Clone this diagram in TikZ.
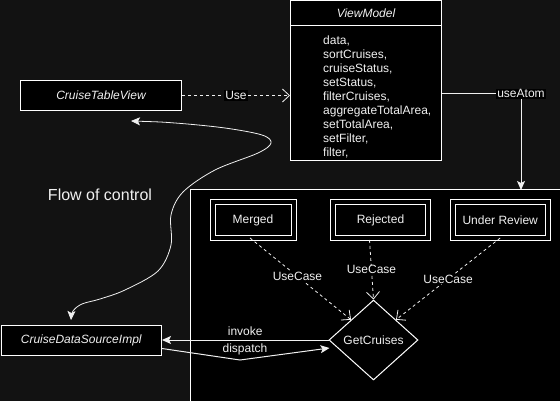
\documentclass[tikz,border=0pt]{standalone}
\usepackage{fontspec}
\setmainfont{Liberation Sans}
\usetikzlibrary{shapes.geometric,arrows.meta,calc}
\definecolor{bgc}{RGB}{18,18,18}
\definecolor{fg}{RGB}{240,240,240}
\begin{document}
\begin{tikzpicture}[x=1pt,y=-1pt,
  every node/.style={text=fg, font=\fontsize{12}{14}\selectfont},
  box/.style={draw=white, fill=black, line width=1pt, inner sep=0pt, minimum width=161pt, minimum height=30pt},
  dbox/.style={draw=white, double=black, double distance=4pt, line width=1pt, fill=black, inner sep=0pt, minimum height=35pt},
  lbl/.style={fill=black, inner sep=1pt},
  openarrow/.style={draw=fg, line width=0.8pt, dash pattern=on 3pt off 3pt, -{Straight Barb[length=7pt,width=13pt]}},
  solidarrow/.style={draw=fg, line width=1pt, -{Stealth[length=9pt,width=8pt,inset=2pt]}}
]
\useasboundingbox (0,0) rectangle (560,401);
\fill[bgc] (0,0) rectangle (560,401);

% container
\fill[black] (190,190) rectangle (575,410);
\draw[white, line width=1pt] (190,410) -- (190,190) -- (575,190);
\coordinate (ua) at (521,190);

% CruiseTableView
\node[box, anchor=north west] (ctv) at (20,80) {\itshape CruiseTableView};
% CruiseDataSourceImpl
\node[box, anchor=north west, minimum width=160.5pt] (cds) at (0.5,325) {\itshape CruiseDataSourceImpl};

% ViewModel
\node[box, anchor=north west, minimum width=151pt, minimum height=159.5pt] (vm) at (290,0.5) {};
\draw[white, line width=1pt] ($(vm.north west)+(0,25.5)$) -- ($(vm.north east)+(0,25.5)$);
\node (vmh) at ($(vm.north)+(0,12.5)$) {\itshape ViewModel};
\node[anchor=north west, align=left, inner sep=0pt] (vmi) at (323,36) {data,\\sortCruises,\\cruiseStatus,\\setStatus,\\filterCruises,\\aggregateTotalArea,\\setTotalArea,\\setFilter,\\filter,};

% status boxes
\node[dbox, minimum width=81pt] (mer) at (253,220) {Merged};
\node[dbox, minimum width=95.5pt] (rej) at (380.5,220) {Rejected};
\node[dbox, minimum width=95pt] (ur) at (500.2,220) {Under Review};

% GetCruises
\node[diamond, draw=white, fill=black, line width=1pt, inner sep=0pt, minimum width=89pt, minimum height=80pt] (gc) at (373.5,340) {GetCruises};

% Flow of control
\node[font=\fontsize{16}{19}\selectfont] (foc) at (100,195) {Flow of control};

% Use
\draw[openarrow] (ctv.east) -- (ctv.east -| vm.west) node[midway, lbl] {Use};

% useAtom
\draw[solidarrow] ($(vm.east)+(0,13)$) -| (ua) node[pos=0.5, lbl] {useAtom};

% UseCase
\draw[openarrow] ([xshift=-3pt]mer.south) -- (gc.north west) node[pos=0.47, lbl] {UseCase};
\draw[openarrow] ([xshift=-11pt,yshift=-2pt]rej.south) -- (gc.north) node[pos=0.5, lbl] {UseCase};
\draw[openarrow] (ur.south) -- (gc.north east) node[pos=0.5, lbl] {UseCase};

% invoke / dispatch
\draw[solidarrow] (gc.west) -- (gc.west -| cds.east) node[midway, above=0.5pt] {invoke};
\coordinate (dp) at (240,360);
\draw[solidarrow] ([yshift=-8pt]cds.east) -- (dp) -- ([yshift=-8pt,xshift=1pt]gc.west);
\node (dsp) at (245,349) {dispatch};

% flow of control curve
\coordinate (f1) at (131,121);
\coordinate (f2) at (71,320);
\draw[fg, line width=0.8pt, {Stealth[length=9pt,width=8pt,inset=2pt]}-{Stealth[length=9pt,width=8pt,inset=2pt]}]
  plot[smooth, tension=0.55] coordinates {(f1) (175,123) (225,128) (262,135) (271,143) (258,153) (215,170) (183,192) (171,215) (171,245) (158,271) (125,290) (100,299) (82,304) (73,311) (f2)};
\end{tikzpicture}
\end{document}
